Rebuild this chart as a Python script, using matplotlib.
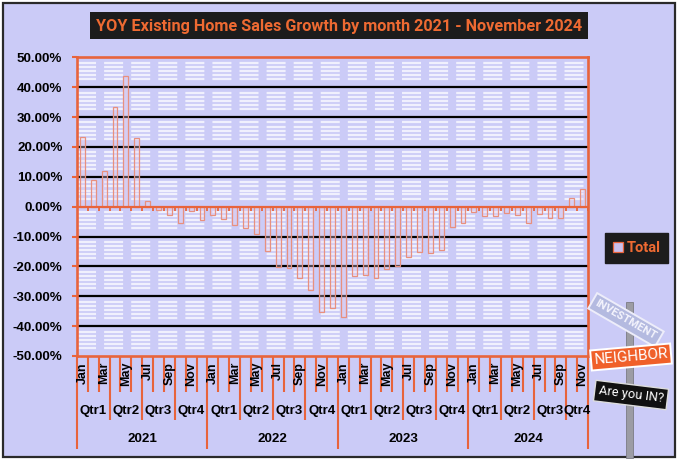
import numpy as np
import matplotlib
matplotlib.use('Agg')
import matplotlib.pyplot as plt
from matplotlib import font_manager
from matplotlib.patches import Rectangle
from matplotlib.transforms import blended_transform_factory

plt.rcParams['lines.scale_dashes'] = False

W, H = 680, 462

# ---- data -------------------------------------------------------------
YEARS = ['2021', '2022', '2023', '2024']
MONTHS = ['Jan', 'Feb', 'Mar', 'Apr', 'May', 'Jun',
          'Jul', 'Aug', 'Sep', 'Oct', 'Nov', 'Dec']
QUARTERS = ['Qtr1', 'Qtr2', 'Qtr3', 'Qtr4']

yoy_2021 = [23.3, 9.0, 12.0, 33.2, 43.9, 22.9, 1.8, -1.2, -2.8, -5.5, -1.5, -4.6]
yoy_2022 = [-2.7, -4.0, -6.0, -7.0, -9.1, -14.9, -20.1, -20.7, -23.8, -28.0, -35.2, -33.8]
yoy_2023 = [-36.9, -23.3, -22.9, -23.8, -20.9, -19.8, -16.8, -15.3, -15.6, -14.4, -6.8, -5.4]
yoy_2024 = [-1.7, -3.2, -3.0, -2.0, -2.9, -5.4, -2.4, -3.9, -3.9, 2.8, 5.9]

SERIES_NAME = 'Total'
TITLE = 'YOY Existing Home Sales Growth by month 2021 - November 2024'

# ---- styles -----------------------------------------------------------
BG = '#CBCBF7'
STRIPE = '#F0F0FD'
ORANGE = '#E8643C'
TITLE_ORANGE = '#EE6A32'
BAR_EDGE = '#E8907E'


def pick_font(names):
    for name in names:
        try:
            font_manager.findfont(font_manager.FontProperties(family=name),
                                  fallback_to_default=False)
            return name
        except ValueError:
            continue
    return 'DejaVu Sans'


NARROW = pick_font(['Liberation Sans Narrow', 'DejaVu Sans Condensed', 'Roboto', 'Liberation Sans'])
ARIAL = pick_font(['Liberation Sans', 'DejaVu Sans'])


def fx(px):
    return px / W


def fy(py):
    return 1 - py / H


# flatten the months
values = []
month_idx = []
year_idx = []
for yi, vals in enumerate([yoy_2021, yoy_2022, yoy_2023, yoy_2024]):
    for mi, v in enumerate(vals):
        values.append(v)
        month_idx.append(mi)
        year_idx.append(yi)
values = np.array(values)
n = len(values)
x = np.arange(n)

fig = plt.figure(figsize=(W / 100, H / 100), dpi=100)
fig.patch.set_facecolor('white')

# outer frame
fig.patches.append(Rectangle((fx(3), fy(457)), fx(672), (454) / H,
                             transform=fig.transFigure, facecolor=BG,
                             edgecolor='#2a2a2a', lw=1.6, zorder=-10))

ax = fig.add_axes([fx(77), fy(356), fx(511), (356 - 57.3) / H])
ax.set_facecolor(BG)
ax.set_xlim(-0.5, n - 0.5)
ax.set_ylim(-50, 50)

# dashed white fill pattern of the plot area
for band_top in range(50, -50, -10):
    ys = [band_top - off for off in (1.8, 3.2, 4.6, 5.9, 7.3)]
    ax.hlines(ys, -0.5, n - 0.5, colors=STRIPE, lw=1.6,
              linestyles=[(0, (13.7, 5.8))], zorder=1)

for v in range(-40, 50, 10):
    if v != 0:
        ax.axhline(v, color='black', lw=1.6, zorder=2)

bars = ax.bar(x, values, width=0.45, facecolor=(0.93, 0.82, 0.92, 0.35),
              edgecolor=BAR_EDGE, lw=0.9, zorder=3, label=SERIES_NAME)

ax.axhline(0, color=ORANGE, lw=1.6, zorder=4)
ax.vlines(np.arange(n + 1) - 0.5, -1.3, 0, colors=ORANGE, lw=1.3, zorder=4)

for sp in ax.spines.values():
    sp.set_color(ORANGE)
    sp.set_linewidth(1.9)

yt = list(range(-50, 51, 10))
ax.set_yticks(yt)
ax.set_yticklabels([f'{v:.2f}%' for v in yt], fontsize=9.6,
                   fontweight='bold', family=ARIAL)
ax.tick_params(axis='y', colors=ORANGE, labelcolor='black', length=3.5,
               width=1.5, pad=7)
ax.set_xticks([])

# multi-level category axis
trans = blended_transform_factory(ax.transData, fig.transFigure)
for i in range(n + 1):
    if i == 0 or i == n or i % 12 == 0:
        ybot = 449
    elif i % 3 == 0:
        ybot = 420
    else:
        ybot = 392
    ax.plot([i - 0.5, i - 0.5], [fy(356), fy(ybot)], transform=trans,
            color=ORANGE, lw=1.5, clip_on=False, solid_capstyle='butt')

for i in range(n):
    if month_idx[i] % 2 == 0:
        ax.text(i, fy(362), MONTHS[month_idx[i]], rotation=90, ha='center',
                va='top', transform=trans, fontsize=9, fontweight='bold',
                family=ARIAL)

for yi, year in enumerate(YEARS):
    idx = [i for i in range(n) if year_idx[i] == yi]
    ax.text(np.mean(idx), fy(439), year, ha='center', va='center',
            transform=trans, fontsize=9.6, fontweight='bold', family=ARIAL)
    for q in range(4):
        qi = [i for i in idx if month_idx[i] // 3 == q]
        if qi:
            ax.text(np.mean(qi), fy(411), QUARTERS[q], ha='center',
                    va='center', transform=trans, fontsize=9.5,
                    fontweight='bold', family=ARIAL)

# title
fig.patches.append(Rectangle((fx(90), fy(39)), fx(498), 27 / H,
                             transform=fig.transFigure, facecolor='#1c1c1c',
                             edgecolor='none', zorder=5))
title = fig.text(fx(339), fy(26), TITLE, ha='center', va='center',
                 color=TITLE_ORANGE, fontsize=12, fontweight='bold',
                 family=NARROW, zorder=6)
fig.canvas.draw()
tw = title.get_window_extent().width
title.set_fontsize(12 * 486 / tw)

# legend
leg = ax.legend(handles=[bars], loc='center',
                bbox_to_anchor=(fx(636.5), fy(248)),
                bbox_transform=fig.transFigure, frameon=True,
                fancybox=False, facecolor='#1c1c1c', edgecolor='#1c1c1c',
                framealpha=1, handlelength=0.7, handleheight=0.7,
                handletextpad=0.25, borderpad=0.55,
                prop={'family': NARROW, 'weight': 'bold', 'size': 10.5})
for t in leg.get_texts():
    t.set_color(TITLE_ORANGE)
leg.legend_handles[0].set_facecolor('#C8C0EE')
leg.legend_handles[0].set_edgecolor(ORANGE)

# logo: street sign
fig.patches.append(Rectangle((fx(626), fy(458)), fx(7), 156 / H,
                             transform=fig.transFigure, facecolor='#9c9ca4',
                             edgecolor='#7c7c84', lw=0.6, zorder=5))
fig.text(fx(626), fy(320), 'INVESTMENT', rotation=-30, ha='center',
         va='center', color='#F4F4FD', fontsize=8, fontweight='bold',
         family=NARROW, zorder=7,
         bbox=dict(boxstyle='square,pad=0.35', facecolor='#B4BAE0',
                   edgecolor='#EDEDFA', lw=1.4))
fig.text(fx(631), fy(357), 'NEIGHBOR', rotation=5, ha='center',
         va='center', color='white', fontsize=11, family=NARROW, zorder=7,
         bbox=dict(boxstyle='square,pad=0.2', facecolor='#F0602A',
                   edgecolor='white', lw=1.4))
fig.text(fx(631), fy(395), 'Are you IN?', rotation=-7, ha='center',
         va='center', color='white', fontsize=9.3, family=NARROW, zorder=7,
         bbox=dict(boxstyle='square,pad=0.3', facecolor='#111111',
                   edgecolor='#dddddd', lw=1.0))

fig.savefig('out.png', dpi=100, facecolor=fig.get_facecolor())
